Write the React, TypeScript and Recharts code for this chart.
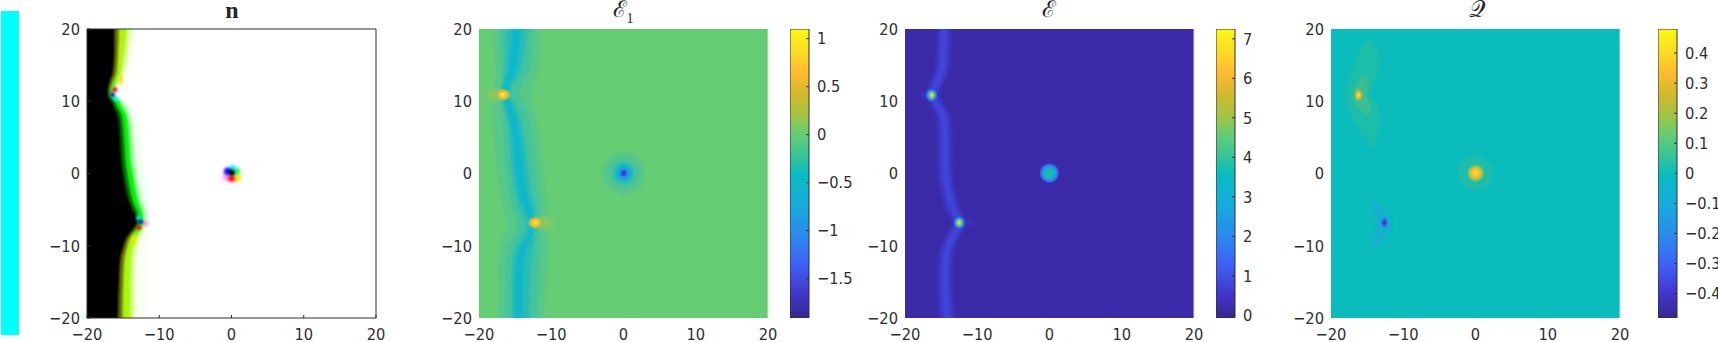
import React from "react";
import { Area, Bar, CartesianGrid, ComposedChart, Scatter, XAxis, YAxis } from "recharts";

const axisTicks = [-20, -10, 0, 10, 20];

/* n panel: where each colour band of the wall stops, read per row */
const nRows = [24, 20, 17, 14, 12.5, 11.5, 10.8, 10, 9, 8, 5, 2, 0, -2, -4, -5.5, -6.7, -8, -9, -10, -12, -15, -20, -24];
const nBlackEdge = [-16.2, -16.2, -16.2, -16.4, -16.9, -17.1, -17.1, -16.6, -16.2, -15.7, -15.4, -15.25, -15, -14.65, -14.1, -13.4, -13.1, -13.85, -14.55, -14.9, -15.4, -15.55, -15.7, -15.7];
const nDarkEdge = [-15.6, -15.6, -15.7, -15.9, -16.5, -16.8, -16.8, -16.2, -15.7, -15.2, -14.9, -14.7, -14.45, -14.1, -13.6, -12.95, -12.7, -13.4, -14.1, -14.4, -14.85, -15, -15.1, -15.1];
const nBrightEdge = [-14.5, -14.5, -14.8, -15.3, -16, -16.4, -16.5, -15.6, -15, -14.5, -14.15, -13.95, -13.65, -13.3, -12.85, -12.3, -12.2, -12.7, -13.3, -13.6, -13.9, -14, -14, -14];
const nLightEdge = [-13.9, -13.9, -14.3, -14.9, -15.6, -16.1, -16.2, -15.1, -14.5, -14, -13.6, -13.4, -13.1, -12.75, -12.3, -11.8, -11.9, -12.3, -12.8, -13.1, -13.4, -13.5, -13.5, -13.5];
const nPaleEdge = [-12.7, -12.7, -13.2, -14, -15, -15.6, -15.7, -14.3, -13.4, -12.9, -12.5, -12.2, -11.9, -11.6, -11.3, -11, -11.2, -11.3, -11.6, -11.8, -11.9, -11.9, -11.8, -11.8];
const nFarLeft = nRows.map(() => -24);

const nRed = [{ x: -16.16, y: 11.6 }, { x: -12.84, y: -7.5 }];
const nBlue = [{ x: -16.44, y: 10.9 }, { x: -12.56, y: -6.7 }];
const nCyan = [{ x: -16, y: 10.35 }, { x: -12.84, y: -6.1 }];
const nYellow = [{ x: -15.3, y: 13 }, { x: -13.5, y: -9.2 }];
const nMagenta = [{ x: -11.9, y: -6.9 }];

/* the defect in the middle of the n panel */
const nMidRed = [{ x: 0, y: -0.7 }];
const nMidBlue = [{ x: -0.55, y: 0.3 }];
const nMidCyan = [{ x: 0.15, y: 0.7 }];
const nMidYellow = [{ x: 0.8, y: -0.6 }];
const nMidGreen = [{ x: 0.7, y: 0.3 }];
const nMidMagenta = [{ x: -0.7, y: -0.5 }];
const nMidBlack = [{ x: 0.04, y: 0.1 }];

/* E1 panel */
const e1Rows = [24, 20, 17, 14, 12.5, 11, 9.5, 8, 5, 2, 0, -2, -4, -5.5, -7, -8.5, -10, -12, -15, -20, -24];
const e1OuterL = [-18, -18, -17.9, -17.8, -17.9, -18, -18, -18, -17.9, -17.7, -17.5, -17.2, -16.9, -16.5, -16.2, -16.6, -17.1, -17.3, -17.4, -17.4, -17.4];
const e1OuterR = [-11.5, -11.5, -11.6, -11.8, -12.2, -12.6, -12.4, -12.1, -11.6, -11.2, -11, -10.8, -10.6, -10.6, -10.9, -10.6, -10.4, -10.5, -10.7, -11, -11];
const e1MidL = [-17.2, -17.2, -17, -16.8, -17, -17.3, -17, -16.7, -16.6, -16.4, -16.2, -16, -15.6, -15.2, -14.8, -15.2, -15.9, -16.2, -16.4, -16.4, -16.4];
const e1MidR = [-12.5, -12.5, -12.6, -13, -14, -14.3, -13.8, -13.1, -12.6, -12.3, -12.1, -11.9, -11.6, -11.5, -11.8, -11.6, -11.4, -11.5, -11.7, -12, -12];
const e1InnerL = [-16.2, -16.2, -16.3, -16.4, -16.7, -16.9, -16.6, -16.2, -15.8, -15.6, -15.4, -15.1, -14.7, -14.1, -13.6, -14, -14.9, -15.3, -15.5, -15.5, -15.5];
const e1InnerR = [-13.4, -13.4, -13.7, -14.3, -15.2, -15.8, -15, -14.4, -13.8, -13.4, -13.1, -12.9, -12.5, -12.2, -12.3, -12.3, -12.5, -12.7, -12.9, -13, -13];
const e1CoreL = [-15.4, -15.4, -15.6, -16, -16.5, -16.9, -16.3, -15.9, -15.3, -15.1, -14.9, -14.6, -14.1, -13.4, -12.9, -13.3, -14.3, -14.8, -15, -15, -15];
const e1CoreR = [-14.2, -14.2, -14.5, -15, -15.8, -16.2, -15.5, -14.9, -14.3, -14, -13.8, -13.5, -13, -12.5, -12.5, -12.7, -13.3, -13.8, -14, -14, -14];
const e1Peaks = [{ x: -16.7, y: 10.9 }, { x: -12.2, y: -6.8 }];
const e1Halos = [{ x: -17.7, y: 10.9 }, { x: -10.9, y: -6.8 }];
const e1Dip = [{ x: 0.03, y: 0.05 }];

/* E panel */
const eRows = [24, 20, 17, 15, 13.5, 12.3, 11, 9.7, 8.5, 7, 5, 2, 0, -3, -5, -6.8, -8.5, -10, -12, -15, -20, -24];
const eOuterL = [-15.7, -15.7, -15.7, -15.8, -16.2, -16.7, -17, -16.6, -15.9, -15.6, -15.5, -15.45, -15.4, -15, -14.4, -13.5, -14.4, -15, -15.4, -15.5, -15.3, -15.3];
const eOuterR = [-13.6, -13.6, -13.7, -13.8, -14.2, -14.8, -15.2, -14.8, -13.9, -13.6, -13.5, -13.45, -13.4, -12.9, -12.3, -11.5, -12.3, -13, -13.4, -13.5, -13.1, -13.1];
const eInnerL = [-15.1, -15.1, -15.2, -15.3, -15.7, -16.2, -16.6, -16.2, -15.4, -15.1, -15, -14.95, -14.9, -14.4, -13.8, -13, -13.8, -14.5, -14.9, -15, -14.7, -14.7];
const eInnerR = [-14.1, -14.1, -14.2, -14.3, -14.7, -15.2, -15.8, -15.2, -14.4, -14.1, -14, -13.95, -13.9, -13.4, -12.8, -12, -12.8, -13.5, -13.9, -14, -13.7, -13.7];
const ePeaks = [{ x: -16.3, y: 10.85 }, { x: -12.5, y: -6.8 }];
const eHalos = [{ x: -17.2, y: 10.9 }, { x: -11, y: -6.8 }];
const eCentre = [{ x: -0.02, y: 0.05 }];

/* Q panel */
const qUpperRows = [18.5, 17, 15, 13, 11.5, 10.8, 10, 8, 6, 4.5, 3.5];
const qUpperL = [-15.15, -16.08, -16.82, -17.6, -17.97, -18.02, -17.92, -17.28, -16.08, -14.97, -14.5];
const qUpperR = [-14.23, -13.5, -13.31, -13.77, -14.5, -14.69, -13.91, -13.22, -13.31, -13.77, -14.32];
const qInnerRows = [13.5, 12.5, 11, 10, 9, 8.2];
const qInnerL = [-15.52, -16.35, -16.9, -16.8, -16.2, -15.52];
const qInnerR = [-15, -14.8, -15, -14.83, -14.5, -14.6];
const qLowerRows = [-4, -5.5, -6.8, -8, -9, -10];
const qLowerL = [-14.05, -14, -13.77, -14, -14.14, -13.95];
const qLowerR = [-13.31, -12.3, -11.46, -11.83, -12.75, -13.4];
const qPeak = [{ x: -16.2, y: 10.85 }];
const qCentre = [{ x: 0.03, y: 0.05 }];
const qTrough = [{ x: -12.6, y: -6.8 }];

/* colorbars */
const e1Range = [-1.91, 1.1];
const e1BarTicks = [-1.5, -1, -0.5, 0, 0.5, 1];
const eRange = [-0.07, 7.25];
const eBarTicks = [0, 1, 2, 3, 4, 5, 6, 7];
const qRange = [-0.481, 0.48];
const qBarTicks = [-0.4, -0.3, -0.2, -0.1, 0, 0.1, 0.2, 0.3, 0.4];

const INK = "#2e2e2e";
const FONT = "'DejaVu Sans Condensed', 'DejaVu Sans', sans-serif";
const PLOT = 289;
const PLOT_TOP = 29;
const GUTTER = 60;

const PARULA: [number, string][] = [
  [0, "#38288f"], [0.08, "#4035c8"], [0.185, "#3d62f5"], [0.29, "#2a8cec"], [0.395, "#14acdb"],
  [0.5, "#08bcbe"], [0.555, "#33c39c"], [0.635, "#64cd73"], [0.71, "#a9c23d"], [0.78, "#d4b92d"],
  [0.85, "#ffbc33"], [0.93, "#fadf22"], [1, "#f8fa14"],
];

type Stop = [number, string, number?];
const RADIALS: Record<string, Stop[]> = {
  e1Peak: [[0, "#fff21c"], [0.2, "#ffe02a"], [0.45, "#fdbb33"], [0.7, "#c8bf3c"], [0.9, "#80c860"], [1, "#74c96c", 0]],
  e1Halo: [[0, "#8cc85c"], [0.8, "#7ec866"], [1, "#70ca6e", 0]],
  e1Dip: [[0, "#3a2aa0"], [0.1, "#3f50e8"], [0.2, "#1c9ee0"], [0.33, "#10b8cc"], [0.5, "#3fc1a0"], [0.72, "#52c58c"], [0.97, "#5cc884"], [1, "#64cd73", 0]],
  ePeak: [[0, "#ffe21e"], [0.18, "#f7bd33"], [0.35, "#6fc86c"], [0.5, "#14aede"], [0.72, "#3c5cf2"], [1, "#3b2aa8", 0]],
  eHalo: [[0, "#3e34bc"], [1, "#3b2aa8", 0]],
  eCentre: [[0, "#20bca0"], [0.35, "#18b8b8"], [0.6, "#1f9fe0"], [0.85, "#3f5ae8"], [1, "#3b2aa8", 0]],
  qPeak: [[0, "#ffe81e"], [0.3, "#fcb933"], [0.55, "#9cc240"], [0.8, "#3dc18e"], [1, "#1dbda9", 0]],
  qCore: [[0, "#ffe21e"], [0.35, "#fdc22e"], [0.6, "#c8bf3c"], [0.8, "#62c578"], [1, "#1dbdaa", 0]],
  qHalo: [[0, "#1dbdaa"], [0.96, "#1dbdaa"], [1, "#0bbcbc", 0]],
  qTrough: [[0, "#3a2a9c"], [0.3, "#3f50e8"], [0.6, "#1f98e0"], [1, "#12b0cf", 0]],
  dotRed: [[0, "#ff0010"], [0.5, "#ff0010", 0.9], [1, "#ff0010", 0]],
  dotBlue: [[0, "#0000ff"], [0.5, "#0000ff", 0.9], [1, "#0000ff", 0]],
  dotCyan: [[0, "#00f0ff"], [0.5, "#00f0ff", 0.8], [1, "#00f0ff", 0]],
  dotYellow: [[0, "#ffe000"], [0.5, "#ffe000", 0.8], [1, "#ffe000", 0]],
  dotGreen: [[0, "#00ff30"], [0.5, "#00ff30", 0.8], [1, "#00ff30", 0]],
  dotMagenta: [[0, "#ff40ff", 0.7], [1, "#ff40ff", 0]],
  dotBlack: [[0, "#000000"], [0.55, "#000000"], [1, "#000000", 0]],
};

const band = (rows: number[], lo: number[], hi: number[]) =>
  rows.map((y, i) => ({ y, range: [lo[i], hi[i]] }));

const minus = (v: number) => String(v).replace("-", "\u2212");

const tickStyle = { fill: INK, fontSize: 16.3, fontFamily: FONT };

const wall = (rows: number[], lo: number[], hi: number[], fill: string, filter = "url(#soft)") => (
  <Area
    data={band(rows, lo, hi)}
    dataKey="range"
    type="monotone"
    fill={fill}
    fillOpacity={1}
    stroke="none"
    filter={filter}
    dot={false}
    activeDot={false}
    isAnimationActive={false}
  />
);

const spot = (points: { x: number; y: number }[], rx: number, ry: number, gradient: string, filter?: string) => (
  <Scatter
    data={points}
    isAnimationActive={false}
    shape={(p: any) => <ellipse cx={p.cx} cy={p.cy} rx={rx} ry={ry} fill={`url(#${gradient})`} filter={filter} />}
  />
);

function HeatPanel({ left, ground, framed, children }: { left: number; ground?: string; framed?: boolean; children: React.ReactNode }) {
  const frame = framed ? { stroke: INK } : false;
  return (
    <div style={{ position: "absolute", left: left - GUTTER, top: 0 }}>
      <ComposedChart
        layout="vertical"
        width={GUTTER + PLOT + 14}
        height={342}
        margin={{ top: PLOT_TOP - 1, right: 13, bottom: 0, left: 0 }}
      >
        <CartesianGrid horizontal={false} vertical={false} fill={ground ?? "#ffffff"} />
        <XAxis
          xAxisId={0}
          dataKey="x"
          type="number"
          domain={[-20, 20]}
          allowDataOverflow
          ticks={axisTicks}
          interval={0}
          height={24}
          tickSize={-3}
          tickMargin={13}
          axisLine={frame}
          tickLine={frame}
          tick={tickStyle}
          tickFormatter={minus}
        />
        <YAxis
          yAxisId={0}
          dataKey="y"
          type="number"
          domain={[-20, 20]}
          allowDataOverflow
          reversed
          ticks={axisTicks}
          interval={0}
          width={GUTTER}
          tickSize={-3}
          tickMargin={10}
          axisLine={frame}
          tickLine={frame}
          tick={tickStyle}
          tickFormatter={minus}
        />
        {children}
        {/* box round the axes, ticks point inwards like MATLAB's */}
        <XAxis xAxisId="frameTop" orientation="top" type="number" domain={[-20, 20]} ticks={axisTicks} interval={0} height={1} tickSize={-3} tick={false} axisLine={frame} tickLine={frame} />
        <YAxis yAxisId="frameRight" orientation="right" type="number" domain={[-20, 20]} ticks={axisTicks} interval={0} width={1} tickSize={-3} tick={false} axisLine={framed ? { stroke: INK } : { stroke: "#dcdcdc" }} tickLine={frame} />
      </ComposedChart>
    </div>
  );
}

function ColorBar({ left, range, ticks }: { left: number; range: number[]; ticks: number[] }) {
  return (
    <div style={{ position: "absolute", left, top: 0 }}>
      <ComposedChart
        width={19 + 70}
        height={342}
        data={[{ name: "scale", range }]}
        barCategoryGap={0}
        margin={{ top: PLOT_TOP, right: 0, bottom: 24, left: 0 }}
      >
        <XAxis dataKey="name" hide />
        <YAxis
          orientation="right"
          type="number"
          domain={range}
          allowDataOverflow
          ticks={ticks}
          interval={0}
          width={70}
          tickSize={-3}
          tickMargin={11}
          axisLine={false}
          tickLine={{ stroke: INK }}
          tick={tickStyle}
          tickFormatter={minus}
        />
        <Bar dataKey="range" fill="url(#parula)" stroke={INK} strokeWidth={1} isAnimationActive={false} />
      </ComposedChart>
    </div>
  );
}

function Title({ centre, children, bold }: { centre: number; children: React.ReactNode; bold?: boolean }) {
  return (
    <div
      style={{
        position: "absolute",
        left: centre - 40,
        width: 80,
        top: 1,
        textAlign: "center",
        color: "#262626",
        fontFamily: "'Liberation Serif', 'DejaVu Serif', serif",
        fontWeight: bold ? 700 : 400,
        fontSize: bold ? 24 : 23,
        lineHeight: "18px",
      }}
    >
      {children}
    </div>
  );
}

export default function App() {
  return (
    <div style={{ position: "fixed", left: 0, top: 0, width: 1718, height: 342, background: "#ffffff", overflow: "hidden" }}>
      <svg width={0} height={0} style={{ position: "absolute" }}>
        <defs>
          <filter id="soft" x="-20%" y="-5%" width="140%" height="110%">
            <feGaussianBlur stdDeviation="1.1" />
          </filter>
          <filter id="softer" x="-20%" y="-5%" width="140%" height="110%">
            <feGaussianBlur stdDeviation="1.8" />
          </filter>
          <filter id="dotBlur" x="-60%" y="-60%" width="220%" height="220%">
            <feGaussianBlur stdDeviation="0.9" />
          </filter>
          <linearGradient id="parula" x1="0" y1="1" x2="0" y2="0">
            {PARULA.map(([o, c]) => (
              <stop key={o} offset={o} stopColor={c} />
            ))}
          </linearGradient>
          {/* wall tints run yellow-green, pure green, then yellow-green again going down */}
          <linearGradient id="nDark" x1="0" y1="0" x2="0" y2="1">
            <stop offset={0.24} stopColor="#6a7000" />
            <stop offset={0.29} stopColor="#007000" />
            <stop offset={0.63} stopColor="#007000" />
            <stop offset={0.68} stopColor="#6a7000" />
          </linearGradient>
          <linearGradient id="nBright" x1="0" y1="0" x2="0" y2="1">
            <stop offset={0.2} stopColor="#b4f018" />
            <stop offset={0.29} stopColor="#08ee10" />
            <stop offset={0.62} stopColor="#08ee10" />
            <stop offset={0.7} stopColor="#a8f810" />
          </linearGradient>
          <linearGradient id="nLight" x1="0" y1="0" x2="0" y2="1">
            <stop offset={0.2} stopColor="#d8ff90" />
            <stop offset={0.29} stopColor="#a0ffa0" />
            <stop offset={0.62} stopColor="#a0ffa0" />
            <stop offset={0.7} stopColor="#d4ff80" />
          </linearGradient>
          <linearGradient id="nPale" x1="0" y1="0" x2="0" y2="1">
            <stop offset={0.2} stopColor="#f9fff0" />
            <stop offset={0.29} stopColor="#f2fff2" />
            <stop offset={0.62} stopColor="#f2fff2" />
            <stop offset={0.7} stopColor="#f9fff0" />
          </linearGradient>
          {Object.entries(RADIALS).map(([id, stops]) => (
            <radialGradient key={id} id={id}>
              {stops.map(([o, c, a]) => (
                <stop key={o} offset={o} stopColor={c} stopOpacity={a ?? 1} />
              ))}
            </radialGradient>
          ))}
        </defs>
      </svg>

      <div style={{ position: "absolute", left: 1, top: 11, width: 18, height: 324, background: "#00ffff" }} />

      <Title centre={232} bold>n</Title>
      <Title centre={623}>{"\u2130"}<sub style={{ fontSize: 14, lineHeight: 0 }}>1</sub></Title>
      <Title centre={1049}>{"\u2130"}</Title>
      <Title centre={1477}>{"\uD835\uDCAC"}</Title>

      <HeatPanel left={87} framed>
        {wall(nRows, nFarLeft, nPaleEdge, "url(#nPale)", "url(#softer)")}
        {wall(nRows, nFarLeft, nLightEdge, "url(#nLight)", "url(#softer)")}
        {wall(nRows, nFarLeft, nBrightEdge, "url(#nBright)")}
        {wall(nRows, nFarLeft, nDarkEdge, "url(#nDark)")}
        {wall(nRows, nFarLeft, nBlackEdge, "#000000")}
        {spot(nYellow, 3, 7, "dotYellow", "url(#dotBlur)")}
        {spot(nMagenta, 4.5, 4.5, "dotMagenta", "url(#dotBlur)")}
        {spot(nCyan, 3.5, 3.5, "dotCyan", "url(#dotBlur)")}
        {spot(nRed, 3.5, 3.2, "dotRed", "url(#dotBlur)")}
        {spot(nBlue, 3, 3, "dotBlue", "url(#dotBlur)")}
        {spot(nMidMagenta, 6, 6, "dotMagenta", "url(#dotBlur)")}
        {spot(nMidYellow, 5.5, 5.5, "dotYellow", "url(#dotBlur)")}
        {spot(nMidGreen, 5, 5, "dotGreen", "url(#dotBlur)")}
        {spot(nMidCyan, 5, 5, "dotCyan", "url(#dotBlur)")}
        {spot(nMidRed, 5, 4.5, "dotRed", "url(#dotBlur)")}
        {spot(nMidBlue, 5, 5, "dotBlue", "url(#dotBlur)")}
        {spot(nMidBlack, 4, 4, "dotBlack", "url(#dotBlur)")}
      </HeatPanel>

      <HeatPanel left={479} ground="#64cd73">
        {wall(e1Rows, e1OuterL, e1OuterR, "#58c888")}
        {wall(e1Rows, e1MidL, e1MidR, "#45c49c")}
        {wall(e1Rows, e1InnerL, e1InnerR, "#28bdb6")}
        {wall(e1Rows, e1CoreL, e1CoreR, "#10b8cc")}
        {spot(e1Halos, 11, 7.5, "e1Halo")}
        {spot(e1Peaks, 7.5, 6, "e1Peak")}
        {spot(e1Dip, 22, 22, "e1Dip")}
      </HeatPanel>
      <ColorBar left={790} range={e1Range} ticks={e1BarTicks} />

      <HeatPanel left={905} ground="#3b2aa8">
        {wall(eRows, eOuterL, eOuterR, "#3d35c0", "url(#softer)")}
        {wall(eRows, eInnerL, eInnerR, "#4044dc", "url(#softer)")}
        {spot(eHalos, 14, 8, "eHalo")}
        {spot(ePeaks, 7, 8, "ePeak")}
        {spot(eCentre, 10.5, 10.5, "eCentre")}
      </HeatPanel>
      <ColorBar left={1216} range={eRange} ticks={eBarTicks} />

      <HeatPanel left={1331} ground="#0bbcbc">
        {wall(qUpperRows, qUpperL, qUpperR, "#1dbda9")}
        {wall(qInnerRows, qInnerL, qInnerR, "#3abf90")}
        {wall(qLowerRows, qLowerL, qLowerR, "#12b0cf")}
        {spot(qPeak, 5.5, 8, "qPeak")}
        {spot(qCentre, 17.5, 17.5, "qHalo")}
        {spot(qCentre, 9.5, 9.5, "qCore")}
        {spot(qTrough, 5.5, 8, "qTrough")}
      </HeatPanel>
      <ColorBar left={1658} range={qRange} ticks={qBarTicks} />
    </div>
  );
}
